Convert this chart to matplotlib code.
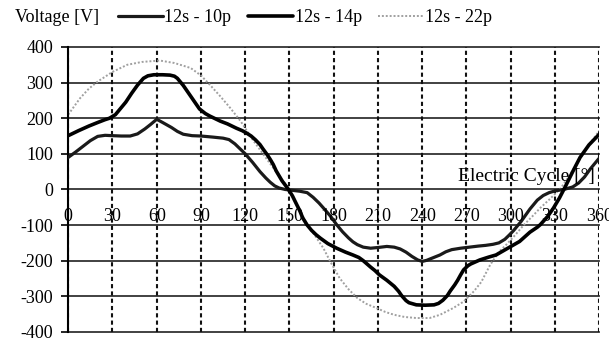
import matplotlib
matplotlib.use("Agg")
import matplotlib.pyplot as plt

plt.rcParams['font.family'] = ['Liberation Serif', 'DejaVu Serif']
plt.rcParams['font.size'] = 13

# electrical angle [deg] and phase voltage [V] for each winding layout
ang_10p = [0, 5, 10, 15, 20, 25, 30, 36, 42, 47, 52, 56, 60, 64, 70, 74, 78,
           84, 90, 98, 105, 109, 113, 116, 120, 125, 130, 134, 137, 140, 143,
           147, 151, 157, 162, 166, 170, 173, 178, 182, 186, 190, 193, 196,
           200, 205, 210, 216, 221, 225, 229, 233, 237, 240, 243, 246, 252,
           256, 260, 266, 272, 278, 283, 288, 292, 296, 299, 302, 307, 313,
           318, 322, 326, 330, 336, 342, 346, 350, 354, 360]
v_10p = [90, 105, 121, 137, 149, 152, 151, 150, 150, 156, 170, 183, 197, 188,
         174, 163, 155, 151, 150, 147, 144, 140, 128, 116, 100, 76, 50, 32, 20,
         10, 4, 0, -2, -5, -9, -22, -38, -52, -76, -99, -119, -136, -147, -155,
         -162, -165, -163, -160, -162, -167, -176, -188, -198, -202, -199, -194,
         -184, -175, -169, -165, -162, -159, -157, -154, -150, -140, -128,
         -115, -90, -55, -30, -17, -9, -4, 0, 7, 18, 35, 58, 88]

ang_14p = [0, 7, 14, 20, 25, 28, 32, 35, 39, 43, 47, 51, 54, 58, 64, 69, 72,
           74, 78, 82, 86, 89, 93, 96, 100, 103, 108, 114, 118, 121, 124, 127,
           130, 132, 135, 137, 139, 141, 145, 149, 152, 154, 157, 159, 162,
           165, 168, 171, 176, 182, 188, 193, 197, 200, 205, 208, 211, 216,
           221, 224, 226, 229, 231, 236, 242, 248, 251, 254, 257, 259, 262,
           264, 266, 268, 271, 273, 279, 285, 290, 298, 306, 313, 318, 320,
           325, 329, 333, 337, 342, 347, 353, 360]
v_14p = [151, 165, 178, 188, 196, 200, 210, 225, 245, 270, 293, 312, 319, 322,
         322, 321, 318, 312, 292, 268, 244, 226, 213, 206, 198, 192, 184, 172,
         165, 158, 150, 139, 126, 114, 97, 84, 70, 52, 24, 2, -18, -35, -60,
         -80, -100, -115, -127, -137, -152, -165, -176, -184, -191, -200, -218,
         -228, -240, -255, -272, -286, -298, -312, -318, -324, -325, -324, -320,
         -311, -298, -285, -268, -255, -240, -226, -214, -209, -198, -190, -184,
         -165, -146, -120, -106, -99, -76, -52, -24, 8, 50, 90, 125, 155]

ang_22p = [0, 8, 14, 20, 30, 40, 50, 62, 72, 83, 90, 96, 103, 110, 117, 125,
           132, 140, 150, 156, 162, 168, 173, 178, 184, 190, 196, 202, 209, 215,
           221, 228, 236, 245, 252, 261, 268, 275, 280, 286, 292, 297, 303, 309,
           315, 320, 327, 334, 340, 347, 353, 360]
v_22p = [210, 256, 283, 303, 330, 350, 358, 362, 355, 341, 320, 294, 262, 228,
         191, 140, 100, 55, 0, -50, -99, -134, -165, -205, -249, -280, -305,
         -321, -333, -344, -352, -358, -361, -361, -352, -333, -315, -286, -260,
         -212, -175, -155, -128, -99, -74, -52, -25, 4, 40, 88, 125, 165]

x_ticks = list(range(0, 361, 30))
y_ticks = list(range(-400, 401, 100))

fig = plt.figure(figsize=(6.09, 3.38), dpi=100)
ax = fig.add_axes([0.112, 0.018, 0.872, 0.843])

line_kw = dict(solid_joinstyle='round', solid_capstyle='round')
l10, = ax.plot(ang_10p, v_10p, color='#1a1a1a', lw=2.3, label='12s - 10p',
               zorder=3, **line_kw)
l14, = ax.plot(ang_14p, v_14p, color='#000000', lw=2.6, label='12s - 14p',
               zorder=3, **line_kw)
l22, = ax.plot(ang_22p, v_22p, color='#a0a0a0', lw=1.4, ls=(0, (1, 1)),
               label='12s - 22p', zorder=2)

ax.set_xlim(0, 360)
ax.set_ylim(-400, 400)
ax.set_yticks(y_ticks)
ax.set_yticklabels([str(v) for v in y_ticks])
ax.set_xticks([])

# horizontal grid solid, vertical grid dashed
for y in y_ticks:
    ax.axhline(y, color='#333333', lw=1.3, zorder=1, clip_on=False)
for x in x_ticks:
    ax.axvline(x, color='#111111', lw=1.5, ls=(0, (2, 1.5)), zorder=1)

for s in ['top', 'right', 'bottom']:
    ax.spines[s].set_visible(False)
ax.spines['left'].set_linewidth(1.5)
ax.tick_params(axis='y', length=5, width=1.2, pad=6, labelsize=13)

# angle labels sit inside the plot, under the zero line
for x in x_ticks:
    ax.text(x, -76, str(x), ha='center', va='center', fontsize=13, zorder=4,
            clip_on=False)

ax.text(357, 37, 'Electric Cycle [°]', ha='right', va='center', fontsize=14,
        zorder=4)

fig.text(0.025, 0.947, 'Voltage [V]', ha='left', va='center', fontsize=13)
fig.legend(handles=[l10, l14, l22], loc='center left',
           bbox_to_anchor=(0.193, 0.947), ncol=3, frameon=False,
           handlelength=2.5, handletextpad=0.1, columnspacing=0.9,
           borderpad=0, borderaxespad=0, fontsize=13)

fig.savefig('out.png', dpi=100)
